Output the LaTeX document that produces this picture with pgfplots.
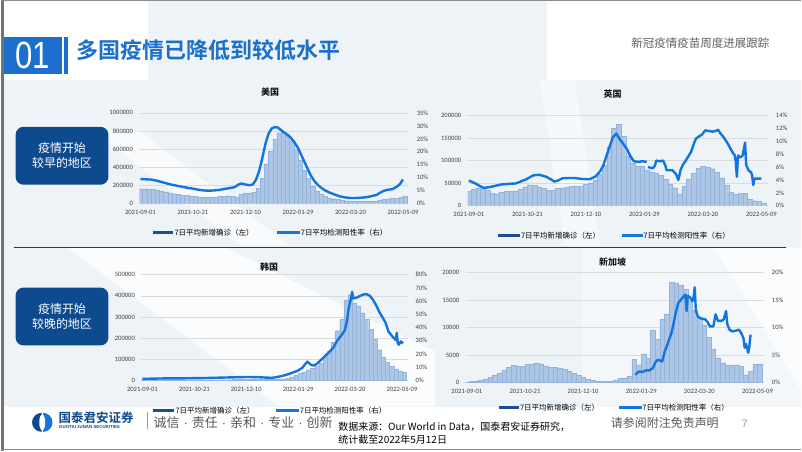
\documentclass[border=0pt]{standalone}
\usepackage{pgfplots}
\pgfplotsset{compat=1.18}
\usepackage{fontspec}
\setmainfont{Carlito}
\newfontfamily\cjk{Noto Sans CJK SC}[BoldFont={Noto Sans CJK SC Bold}]
\newfontfamily\lib{Liberation Sans}
\definecolor{barfill}{HTML}{ADC6E5}
\definecolor{barline}{HTML}{93B3DA}
\definecolor{linec}{HTML}{1275DE}
\definecolor{navy}{HTML}{0E4A8E}
\definecolor{hdrblue}{HTML}{1C6FCC}
\definecolor{legbar}{HTML}{1A4F93}
\definecolor{bgl}{HTML}{EEF3F8}
\definecolor{tickc}{HTML}{404040}
\newcommand{\sep}{\hspace{4pt}{\lib ·}\hspace{4pt}}

\pgfplotsset{
  base/.style={scale only axis, xmin=-1, xmax=256, ymin=0,
    axis line style={draw=none}, major tick length=0pt,
    tick label style={font=\fontsize{6.6}{7}\selectfont, text=tickc},
    /pgf/number format/assume math mode=true},
  leftax/.style={base, ymajorgrids, grid style={draw=black!14, line width=0.5pt},
    xtick={0,50,100,150,200,250},
    xticklabels={2021-09-01,2021-10-21,2021-12-10,2022-01-29,2022-03-20,2022-05-09},
    xticklabel style={yshift=-3.5pt}, scaled y ticks=false,
    yticklabel style={/pgf/number format/fixed, /pgf/number format/1000 sep={}, xshift=-3pt}},
  rightax/.style={base, xtick=\empty, ytick pos=right, yticklabel pos=right,
    yticklabel={\pgfmathprintnumber{\tick}\%},
    yticklabel style={xshift=4pt, /pgf/number format/fixed}},
  bars/.style={ybar, bar width=4, fill=barfill, draw=barline, line width=0.3pt},
  posline/.style={color=linec, line width=2.4pt, line join=round, no markers},
}

\begin{document}
\begin{tikzpicture}
\begin{scope}[x=1pt,y=1pt]
\fill[white] (0,0) rectangle (802,452);
% background shapes
\fill[bgl] (0,44) rectangle (802,372);
\fill[bgl] (148,372) rectangle (547,452);
\fill[white, opacity=0.8] (67,204) -- (225,204) -- (435,100) -- (435,45) -- (279,45) -- cycle;
\fill[white, opacity=0.6] (95,320) -- (140,320) -- (290,206) -- (240,206) -- cycle;
\fill[white, opacity=0.5] (540,372) -- (575,372) -- (600,206) -- (565,206) -- cycle;
\fill[white, opacity=0.4] (582,45) rectangle (802,204);
\fill[white, opacity=0.7] (715,204) -- (802,204) -- (802,60) -- cycle;
% frame
\fill[black!55] (0,0) rectangle (3,452);
\draw[black!45, line width=1.2pt] (0,451.4) -- (802,451.4);
\draw[black!45, line width=1.2pt] (0,1.6) -- (802,1.6);
% header
\fill[hdrblue] (3,378) rectangle (61,415);
\node[white, inner sep=0] at (32,396.5) {\scalebox{0.82}[1]{\lib\fontsize{38}{38}\selectfont 01}};
\fill[hdrblue] (63,378) rectangle (67,415);
\node[anchor=west, inner sep=0, text=hdrblue] at (76,402) {\cjk\bfseries\fontsize{22}{22}\selectfont 多国疫情已降低到较低水平};
\node[anchor=east, inner sep=0, text=black!62] at (770,409) {\cjk\fontsize{11.5}{12}\selectfont 新冠疫情疫苗周度进展跟踪};
% left boxes
\fill[navy, rounded corners=8pt] (15,267) rectangle (108,325);
\node[white, align=center, inner sep=0, font=\cjk\fontsize{12}{15}\selectfont] at (61.5,296) {疫情开始\\较早的地区};
\fill[navy, rounded corners=8pt] (15,106) rectangle (108,164);
\node[white, align=center, inner sep=0, font=\cjk\fontsize{12}{15}\selectfont] at (61.5,135) {疫情开始\\较晚的地区};
\draw[navy!85!black, line width=1.5pt] (13,204) -- (787,204);
\end{scope}

% ===== US =====
\begin{axis}[leftax, at={(139pt,248pt)}, anchor=south west, width=270.3pt, height=91pt,
  ymax=1000000, ytick distance=200000]
\addplot[bars] coordinates {
(0,165000)(4,165000)(8,162000)(12,160000)(16,152000)(20,142000)(24,132000)(28,118000)
(32,110000)(36,105000)(40,98000)(44,92000)(48,85000)(52,80000)(56,76000)(60,72000)
(64,71000)(68,72000)(72,74000)(76,78000)(80,84000)(84,88000)(88,80000)(92,72000)
(96,108000)(100,118000)(104,120000)(108,126000)(112,170000)(116,280000)(120,440000)(124,580000)
(128,710000)(132,780000)(136,790000)(140,760000)(144,690000)(148,600000)(152,480000)(156,370000)
(160,280000)(164,195000)(168,140000)(172,100000)(176,80000)(180,65000)(184,55000)(188,46000)
(192,38000)(196,33000)(200,30000)(204,28000)(208,27000)(212,27000)(216,26000)(220,28000)
(224,32000)(228,38000)(232,45000)(236,52000)(240,56000)(244,62000)(248,72000)(252,85000)};
\end{axis}
\begin{axis}[rightax, at={(139pt,248pt)}, anchor=south west, width=270.3pt, height=91pt,
  ymax=35, ytick distance=5]
\addplot[posline] coordinates {
(0,9.5)(5,9.4)(10,9.3)(15,8.9)(20,8.4)(25,7.8)(30,7.3)(35,6.9)(40,6.5)(45,6.1)(50,5.8)
(55,5.4)(60,5.1)(65,5.0)(70,5.1)(75,5.3)(80,5.7)(85,6.0)(90,6.4)(93,7.3)(96,7.8)(100,7.4)
(104,7.1)(107,7.4)(110,9.2)(113,12.5)(116,17.5)(119,23)(122,27)(125,29)(128,29.5)(131,29.3)
(134,28.3)(137,27.4)(140,26.5)(143,25.5)(146,24)(150,21.5)(154,18)(158,14.5)(162,11)
(166,8.5)(170,6.8)(175,5.3)(180,4.3)(185,3.5)(190,2.8)(195,2.4)(200,2.2)(205,2.2)(210,2.3)
(215,2.5)(220,2.9)(225,3.4)(228,4.2)(232,5.0)(236,5.4)(240,5.6)(244,6.5)(247,7.5)(250,9.3)};
\end{axis}

% ===== UK =====
\begin{axis}[leftax, at={(467.8pt,246pt)}, anchor=south west, width=301.2pt, height=90.3pt,
  ymax=200000, ytick distance=50000]
\addplot[bars] coordinates {
(0,32000)(4,36000)(8,39000)(12,38000)(16,34000)(20,28000)(24,26500)(28,29000)
(32,31500)(36,32500)(40,33000)(44,37000)(48,42000)(52,46500)(56,45000)(60,42000)
(64,38000)(68,34000)(72,34500)(76,38000)(80,40000)(84,42000)(88,43000)(92,43000)
(96,44000)(100,47000)(104,51000)(108,57000)(112,70000)(116,90000)(120,130000)(124,172000)
(128,180000)(132,155000)(136,110000)(140,95000)(144,88000)(148,87000)(152,78000)(156,75000)
(160,72000)(164,67000)(168,58000)(172,47000)(176,40000)(180,26000)(184,44000)(188,58000)
(192,72000)(196,83000)(200,87000)(204,86000)(208,82000)(212,74000)(216,62000)(220,45000)
(224,30000)(228,25000)(232,27000)(236,28000)(240,14000)(244,11000)(248,10000)(252,6000)};
\end{axis}
\begin{axis}[rightax, at={(467.8pt,246pt)}, anchor=south west, width=301.2pt, height=90.3pt,
  ymax=14, ytick distance=2]
\addplot[posline] coordinates {
(0,3.9)(5,3.5)(10,3.0)(13,2.75)(18,2.9)(23,3.1)(28,3.3)(35,3.4)(40,3.45)(45,3.8)(49,4.1)
(55,4.7)(60,4.8)(66,4.5)(70,4.1)(73,3.75)(76,3.9)(80,4.25)(85,4.3)(90,4.3)(97,4.15)(103,4.1)
(108,4.5)(112,5.3)(115,6.3)(119,8.5)(123,10.6)(126,11.2)(129,10.3)(132,9.6)(135,8.8)(138,7.7)
(141,6.9)(145,6.8)(148,6.9)(152,6.8)};
\addplot[posline] coordinates {
(153,6.0)(157,5.8)(159,6.2)(160,7.0)(163,6.9)(166,7.0)(168,6.2)(169,5.5)(174,5.5)(177,4.9)
(179,4.0)(181,5.6)(183,6.4)(185,6.9)(187,7.5)(190,8.4)(192,9.5)(194,10.4)(197,10.8)(199,11.0)
(202,11.7)(205,11.6)(208,11.5)(211,11.6)(213,11.8)(215,11.2)(217,10.8)(220,10.0)(222,9.4)
(224,8.7)(226,8.1)(227,7.9)(228,7.0)(229,4.5)(230,7.8)(232,7.5)(234,7.8)(236,9.8)(237,6.3)
(239,5.5)(241,5.2)(242,4.8)(243,3.2)(244,4.2)(246,4.2)(250,4.2)};
\end{axis}

% ===== Korea =====
\begin{axis}[leftax, at={(141pt,71pt)}, anchor=south west, width=267.2pt, height=106pt,
  ymax=500000, ytick distance=100000]
\addplot[bars] coordinates {
(0,1800)(4,1800)(8,1900)(12,2000)(16,1900)(20,2000)(24,1700)(28,2200)(32,2000)(36,1700)
(40,1500)(44,1600)(48,1800)(52,1600)(56,1900)(60,2000)(64,2300)(68,2800)(72,3000)(76,3200)
(80,3500)(84,3600)(88,4200)(92,5000)(96,6000)(100,7000)(104,7000)(108,6500)(112,5500)(116,5000)
(120,4000)(124,4000)(128,4500)(132,5500)(136,7500)(140,12000)(144,17000)(148,25000)(152,33000)
(156,40000)(160,50000)(164,56000)(168,66000)(172,82000)(176,110000)(180,140000)(184,180000)
(188,235000)(192,290000)(196,380000)(200,405000)(204,365000)(208,350000)(212,320000)(216,290000)
(220,240000)(224,195000)(228,145000)(232,110000)(236,85000)(240,68000)(244,55000)(248,42000)
(252,37000)};
\end{axis}
\begin{axis}[rightax, at={(141pt,71pt)}, anchor=south west, width=267.2pt, height=106pt,
  ymax=80, ytick distance=10]
\addplot[posline] coordinates {
(0,1.2)(20,1.5)(40,1.6)(60,1.8)(80,2.2)(100,2.6)(110,2.5)(120,2.1)(125,2.0)(130,2.6)(135,3.5)
(140,4.6)(145,6.0)(150,7.5)(154,9.5)(157,12.5)(159,14.2)(162,12.0)(165,11.2)(168,12.5)(172,15.5)
(176,18.5)(180,21.5)(184,25)(188,30.5)(192,34.5)(195,38)(197,45)(199,56)(201,62)(202,67)(203,62)
(206,62.5)(210,64)(213,65)(216,65.2)(219,64)(222,61)(225,57)(228,52)(231,48)(234,44)(237,37)
(239,35)(241,33)(243,31.5)(244,30.5)(245,36)(246,28)(247,27)(249,29.5)(251,28)};
\end{axis}

% ===== Singapore =====
\begin{axis}[leftax, at={(465.8pt,69pt)}, anchor=south west, width=299.2pt, height=110pt,
  ymax=20000, ytick distance=5000]
\addplot[bars] coordinates {
(0,60)(4,150)(8,280)(12,420)(16,650)(20,950)(24,1300)(28,1700)(32,2200)(36,2700)(40,3150)
(44,3000)(48,2950)(52,3250)(56,3400)(60,3550)(64,3400)(68,3000)(72,2800)(76,2750)(80,2650)
(84,2350)(88,2000)(92,1650)(96,1250)(100,900)(104,550)(108,350)(112,250)(116,200)(120,180)
(124,250)(128,450)(132,700)(136,850)(140,1100)(144,4200)(148,3200)(152,5200)(156,4400)
(160,9500)(164,7800)(168,11500)(172,12500)(176,18200)(180,18100)(184,17700)(188,17000)
(192,14800)(196,13200)(200,11800)(204,10500)(208,8200)(212,6000)(216,4500)(220,3600)(224,3200)
(228,3200)(232,3200)(236,2900)(240,1400)(244,2000)(248,3300)(252,3400)};
\end{axis}
\begin{axis}[rightax, at={(465.8pt,69pt)}, anchor=south west, width=299.2pt, height=110pt,
  ymax=20, ytick distance=5]
\addplot[posline] coordinates {
(145,1.4)(148,2.0)(151,1.9)(154,2.2)(157,2.2)(160,2.6)(162,3.6)(164,4.1)(166,4.0)(168,3.8)
(170,5.5)(172,6.6)(174,7.8)(176,9.0)(178,10.9)(180,13.0)(182,14.5)(185,15.3)(187,15.8)(188,16.0)
(189,13.0)(190,15.8)(192,15.5)(194,14.8)(195,15.5)(196,17.3)(197,13.0)(199,11.9)(202,11.6)
(205,11.5)(207,11.0)(209,10.2)(212,10.2)(214,12.4)(216,11.2)(219,11.2)(221,11.5)(223,13.0)
(224,10.6)(226,9.6)(228,9.3)(231,9.4)(234,9.6)(236,9.0)(238,8.0)(239,6.3)(240,7.0)(241,6.4)
(242,5.4)(243,6.5)(244,8.7)};
\end{axis}

\begin{scope}[x=1pt,y=1pt]
% titles and legends
\node[inner sep=0] at (270,360) {\cjk\bfseries\fontsize{9}{9}\selectfont 美国};
\fill[legbar] (153,217.5) rectangle (173,220.5);
\node[anchor=west, inner sep=0] at (174,219) {\cjk\fontsize{7.5}{8}\selectfont 7日平均新增确诊（左）};
\draw[linec, line width=2.5pt] (277,219) -- (300,219);
\node[anchor=west, inner sep=0] at (300.5,219) {\cjk\fontsize{7.5}{8}\selectfont 7日平均检测阳性率（右）};

\node[inner sep=0] at (613,358) {\cjk\bfseries\fontsize{9}{9}\selectfont 英国};
\fill[legbar] (498,214.5) rectangle (520,217.5);
\node[anchor=west, inner sep=0] at (521,216) {\cjk\fontsize{7.5}{8}\selectfont 7日平均新增确诊（左）};
\draw[linec, line width=2.5pt] (622,216) -- (643,216);
\node[anchor=west, inner sep=0] at (643.5,216) {\cjk\fontsize{7.5}{8}\selectfont 7日平均检测阳性率（右）};

\node[inner sep=0] at (269,185) {\cjk\bfseries\fontsize{9}{9}\selectfont 韩国};
\fill[legbar] (153,39.5) rectangle (174,42.5);
\node[anchor=west, inner sep=0] at (175,41) {\cjk\fontsize{7.5}{8}\selectfont 7日平均新增确诊（左）};
\draw[linec, line width=2.5pt] (276,41) -- (299,41);
\node[anchor=west, inner sep=0] at (299.5,41) {\cjk\fontsize{7.5}{8}\selectfont 7日平均检测阳性率（右）};

\node[inner sep=0] at (613,190) {\cjk\bfseries\fontsize{9}{9}\selectfont 新加坡};
\fill[legbar] (499,42.5) rectangle (519,45.5);
\node[anchor=west, inner sep=0] at (520,44) {\cjk\fontsize{7.5}{8}\selectfont 7日平均新增确诊（左）};
\draw[linec, line width=2.5pt] (619,44) -- (642,44);
\node[anchor=west, inner sep=0] at (642.5,44) {\cjk\fontsize{7.5}{8}\selectfont 7日平均检测阳性率（右）};

% footer
\fill[navy] (41,19.5) arc (270:90:9.5) -- cycle;
\fill[linec] (42.5,19.5) arc (-90:90:9.5) -- cycle;
\fill[white] (41.7,29) ellipse (3 and 8);
\node[anchor=west, inner sep=0, text=navy] at (58,33.5) {\cjk\bfseries\fontsize{12.5}{13}\selectfont 国泰君安证券};
\node[anchor=west, inner sep=0, text=navy] at (58.5,24) {\lib\bfseries\fontsize{4.4}{5}\selectfont GUOTAI JUNAN SECURITIES};
\draw[black!40, line width=0.6pt] (147,22) -- (147,39);
\node[anchor=west, inner sep=0, text=black!65] at (153,29) {\cjk\fontsize{13}{14}\selectfont 诚信\sep 责任\sep 亲和\sep 专业\sep 创新};
\node[anchor=west, inner sep=0, text=black] at (338,25) {\cjk\fontsize{10}{11}\selectfont 数据来源：Our World in Data，国泰君安证券研究，};
\node[anchor=west, inner sep=0, text=black] at (338,12) {\cjk\fontsize{10}{11}\selectfont 统计截至2022年5月12日};
\node[anchor=west, inner sep=0, text=black!65] at (611,28) {\cjk\fontsize{12}{13}\selectfont 请参阅附注免责声明};
\node[anchor=west, inner sep=0, text=black!40] at (742,28) {\lib\fontsize{11}{12}\selectfont 7};
\end{scope}
\end{tikzpicture}
\end{document}
